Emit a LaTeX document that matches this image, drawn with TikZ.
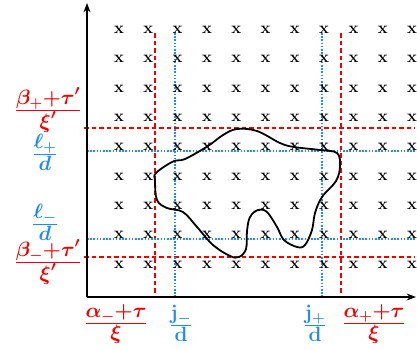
\documentclass[tikz,border=0pt]{standalone}
\usepackage{amsmath,amssymb,bm}
\usepackage{xcolor}
\usetikzlibrary{arrows.meta}
\definecolor{myred}{RGB}{240,0,0}
\definecolor{myblue}{RGB}{30,140,240}
\newcommand{\lvlfrac}[2]{\frac{\displaystyle #1}{\displaystyle #2}}

\begin{document}
\begin{tikzpicture}[x=1pt,y=-1pt,
        axis/.style={line width=1.4pt,-Stealth},
        redline/.style={myred,line width=1.5pt,dash pattern=on 4.5pt off 3pt},
        blueline/.style={myblue,line width=1.7pt,dash pattern=on 1.6pt off 1.6pt},
        cross/.style={font=\fontsize{16.5}{19}\selectfont\bfseries,inner sep=0pt},
        redlbl/.style={myred,font=\fontsize{22}{26}\selectfont\boldmath,inner sep=0pt},
        bluelbl/.style={myblue,font=\fontsize{22}{26}\selectfont\boldmath,inner sep=0pt}]
        \useasboundingbox (0,0) rectangle (417,349);
        \coordinate (O) at (87,297);
        \coordinate (ytop) at (87,3);
        \coordinate (xend) at (416,297);
        % dashed and dotted levels
        \draw[redline] (155,33)--(155,297);
        \draw[redline] (341,33)--(341,297);
        \draw[redline] (84,128)--(415,128);
        \draw[redline] (84,257)--(415,257);
        \draw[blueline] (175,33)--(175,297);
        \draw[blueline] (322,33)--(322,297);
        \draw[blueline] (87,151)--(415,151);
        \draw[blueline] (87,239)--(415,239);
        % axes
        \draw[axis] (O)--(ytop);
        \draw[axis] (O)--(xend);
        % lattice
        \foreach \i in {0,...,10}
          \foreach \j in {0,...,8}
            \node[cross] (x\i-\j) at ({119+29.3*\i},{30+29.3*\j}) {x};
        % region
        \draw[line width=1.8pt,smooth cycle,tension=0.6] plot coordinates {
          (156,173) (173,161.5) (185,159) (208,146) (223,135) (237,129)
          (257,131) (280,143) (294,147) (320,150) (337,153) (340,166)
          (336,181) (322,197) (315,213) (312,230) (305,245) (297,247)
          (284,240) (277,227) (267,212) (258,210) (250,217) (247,231)
          (246,249) (239,257) (230,256) (213,245) (197,227) (183,212)
          (167,208) (157,200) (155,181)};
        % labels
        \node[redlbl] (am) at (116,324) {$\lvlfrac{\alpha_-{+}\tau}{\xi}$};
        \node[bluelbl] (jm) at (181,323) {$\lvlfrac{\mathbf{j}_-}{\mathbf{d}}$};
        \node[bluelbl] (jp) at (315,323) {$\lvlfrac{\mathbf{j}_+}{\mathbf{d}}$};
        \node[redlbl] (ap) at (374,324) {$\lvlfrac{\alpha_+{+}\tau}{\xi}$};
        \node[redlbl] (bp) at (48,110) {$\lvlfrac{\beta_+{+}\tau'}{\xi'}$};
        \node[bluelbl] (lp) at (45,152) {$\lvlfrac{\ell_+}{d}$};
        \node[bluelbl] (lm) at (45,222) {$\lvlfrac{\ell_-}{d}$};
        \node[redlbl] (bm) at (48,262) {$\lvlfrac{\beta_-{+}\tau'}{\xi'}$};
\end{tikzpicture}
\end{document}
